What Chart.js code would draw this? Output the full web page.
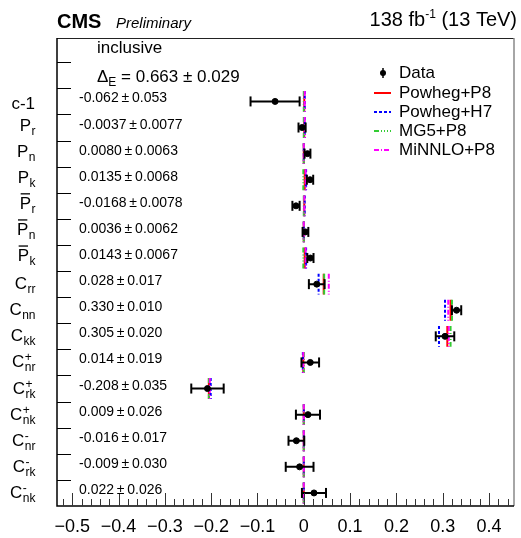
<!DOCTYPE html>
<html>
<head>
<meta charset="utf-8">
<script src="https://cdn.jsdelivr.net/npm/chart.js@4.4.1/dist/chart.umd.min.js"></script>
<style>
  body { margin: 0; background: #fff; }
  #wrap { width: 521px; height: 538px; }
</style>
</head>
<body>
<div id="wrap"><canvas id="chart" width="521" height="538"></canvas></div>
<script>
// categories (symbol, subscript, superscript, overbar)
const catMain = ['c-1', 'P', 'P', 'P', 'P', 'P', 'P', 'C', 'C', 'C', 'C', 'C', 'C', 'C', 'C', 'C'];
const catSub = ['', 'r', 'n', 'k', 'r', 'n', 'k', 'rr', 'nn', 'kk', 'nr', 'rk', 'nk', 'nr', 'rk', 'nk'];
const catSup = ['', '', '', '', '', '', '', '', '', '', '+', '+', '+', '-', '-', '-'];
const catBar = [false, false, false, false, true, true, true, false, false, false, false, false, false, false, false, false];

// measured values and uncertainties
const measured = [-0.062, -0.0037, 0.0080, 0.0135, -0.0168, 0.0036, 0.0143, 0.028, 0.330, 0.305, 0.014, -0.208, 0.009, -0.016, -0.009, 0.022];
const uncert = [0.053, 0.0077, 0.0063, 0.0068, 0.0078, 0.0062, 0.0067, 0.017, 0.010, 0.020, 0.019, 0.035, 0.026, 0.017, 0.030, 0.026];

// predictions
const powhegP8 = [0.001, 0.001, 0.000, 0.002, 0.001, 0.000, 0.002, 0.043, 0.317, 0.310, -0.001, -0.205, 0.000, 0.000, 0.000, 0.000];
const powhegH7 = [0.002, 0.002, 0.000, 0.005, 0.002, 0.000, 0.005, 0.032, 0.305, 0.292, -0.002, -0.201, 0.000, 0.000, 0.000, 0.000];
const mg5P8 = [0.000, 0.000, 0.000, -0.001, 0.000, 0.000, -0.001, 0.044, 0.320, 0.317, 0.000, -0.205, 0.000, 0.000, 0.000, 0.000];
const minnloP8 = [0.002, 0.002, 0.000, 0.004, 0.001, 0.000, 0.004, 0.054, 0.312, 0.313, -0.001, -0.203, 0.000, 0.000, 0.000, 0.000];

const xTicks = [-0.5, -0.4, -0.3, -0.2, -0.1, 0, 0.1, 0.2, 0.3, 0.4];
const inclusiveDelta = [0.663, 0.029];

const FONT = '"Liberation Sans", Arial, Helvetica, sans-serif';
Chart.defaults.font.family = FONT;

const ROW0 = 2; // first category row (rows 0,1 hold the text)
const rowOf = i => i + ROW0 + 0.5;

function modelSet(label, vals, color, dash) {
  const pts = [];
  vals.forEach((v, i) => {
    pts.push({ x: v, y: i + ROW0 + 0.1 }, { x: v, y: i + ROW0 + 0.9 }, { x: v, y: null });
  });
  return {
    label: label, data: pts, showLine: true, spanGaps: false,
    borderColor: color, borderWidth: 2, borderDash: dash, pointRadius: 0
  };
}

const errPts = [];
measured.forEach((v, i) => {
  errPts.push({ x: v - uncert[i], y: rowOf(i) }, { x: v + uncert[i], y: rowOf(i) }, { x: v, y: null });
});

const models = [
  { label: 'Powheg+P8', vals: powhegP8, color: '#ff0000', dash: [] },
  { label: 'Powheg+H7', vals: powhegH7, color: '#0000ff', dash: [3, 2] },
  { label: 'MG5+P8', vals: mg5P8, color: '#33cc33', dash: [5, 2, 1, 2, 1, 2, 1, 2] },
  { label: 'MiNNLO+P8', vals: minnloP8, color: '#ff00ff', dash: [5, 2, 1, 2] }
];

function fmtVal(v, e) {
  const d = e < 0.01 ? 4 : 3;
  return v.toFixed(d) + '\u2009\u00b1\u2009' + e.toFixed(d);
}

function drawLabel(ctx, right, base, main, sub, sup, bar) {
  ctx.font = '17px ' + FONT;
  const mw = ctx.measureText(main).width;
  ctx.font = '12px ' + FONT;
  const sw = Math.max(ctx.measureText(sub).width, ctx.measureText(sup).width);
  const x0 = right - mw - sw;
  ctx.font = '17px ' + FONT;
  ctx.fillText(main, x0, base);
  if (bar) {
    ctx.lineWidth = 1.3;
    ctx.beginPath();
    ctx.moveTo(x0 + 1, base - 15);
    ctx.lineTo(x0 + mw - 1, base - 15);
    ctx.stroke();
  }
  ctx.font = '12px ' + FONT;
  if (sub) ctx.fillText(sub, x0 + mw + 0.5, base + 4);
  if (sup) ctx.fillText(sup, x0 + mw + 0.5, base - 6);
}

const decor = {
  id: 'decor',
  afterDraw(chart) {
    const ctx = chart.ctx;
    const a = chart.chartArea;
    const xs = chart.scales.x, ys = chart.scales.y;
    ctx.save();
    ctx.fillStyle = '#000';
    ctx.strokeStyle = '#000';

    // frame
    ctx.lineWidth = 1;
    ctx.strokeStyle = '#222';
    ctx.beginPath(); ctx.moveTo(a.left, a.top + 0.5); ctx.lineTo(a.right, a.top + 0.5); ctx.stroke();
    ctx.strokeStyle = '#888';
    ctx.lineWidth = 1.5;
    ctx.beginPath(); ctx.moveTo(a.right, a.top); ctx.lineTo(a.right, a.bottom); ctx.stroke();
    ctx.strokeStyle = '#000';
    ctx.beginPath(); ctx.moveTo(a.left, a.top); ctx.lineTo(a.left, a.bottom); ctx.lineTo(a.right, a.bottom); ctx.stroke();

    // y ticks (row separators)
    ctx.lineWidth = 1;
    for (let r = 1; r <= catMain.length + 1; r++) {
      const y = Math.round(ys.getPixelForValue(r)) + 0.5;
      ctx.beginPath(); ctx.moveTo(a.left, y); ctx.lineTo(a.left + 14, y); ctx.stroke();
    }

    // x ticks
    ctx.strokeStyle = '#333';
    for (let k = -26; k <= 22; k++) {
      const v = k * 0.02;
      const x = Math.round(xs.getPixelForValue(v)) + 0.5;
      const len = (k % 5 === 0) ? 13 : 7;
      ctx.beginPath(); ctx.moveTo(x, a.bottom); ctx.lineTo(x, a.bottom - len); ctx.stroke();
    }

    // category labels and values
    ctx.strokeStyle = '#000';
    ctx.textBaseline = 'alphabetic';
    ctx.textAlign = 'left';
    catMain.forEach((m, i) => {
      const yc = ys.getPixelForValue(rowOf(i));
      const off = m === 'P' ? 3 : (m === 'C' ? 5 : 8);
      drawLabel(ctx, 35, yc + off, m, catSub[i], catSup[i], catBar[i]);
      ctx.font = '14px ' + FONT;
      ctx.fillText(fmtVal(measured[i], uncert[i]), 79, yc + 1);
    });

    // inclusive text
    ctx.font = '17px ' + FONT;
    ctx.fillText('inclusive', 97, ys.getPixelForValue(0.5) + 4);
    const yd = ys.getPixelForValue(1.5) + 6.5;
    ctx.fillText('\u0394', 97, yd);
    let w = ctx.measureText('\u0394').width;
    ctx.font = '12px ' + FONT;
    ctx.fillText('E', 97 + w, yd + 4);
    w += ctx.measureText('E').width;
    ctx.font = '17px ' + FONT;
    ctx.fillText(' = ' + inclusiveDelta[0].toFixed(3) + ' \u00b1 ' + inclusiveDelta[1].toFixed(3), 97 + w, yd);

    // legend
    const lx = 374, tx = 399;
    let ly = 73;
    ctx.lineWidth = 1.5;
    ctx.beginPath(); ctx.moveTo(383, ly - 5); ctx.lineTo(383, ly + 5); ctx.stroke();
    ctx.beginPath(); ctx.arc(383, ly, 3, 0, Math.PI * 2); ctx.fill();
    ctx.font = '17px ' + FONT;
    ctx.textBaseline = 'middle';
    ctx.fillText('Data', tx, ly);
    models.forEach((m, i) => {
      const y = 93 + i * 19;
      ctx.strokeStyle = m.color;
      ctx.lineWidth = 2;
      ctx.setLineDash(m.dash);
      ctx.beginPath(); ctx.moveTo(lx, y); ctx.lineTo(lx + 17, y); ctx.stroke();
      ctx.setLineDash([]);
      ctx.fillStyle = '#000';
      ctx.fillText(m.label, tx, y);
    });

    // header
    ctx.textBaseline = 'alphabetic';
    ctx.font = 'bold 20px ' + FONT;
    ctx.fillText('CMS', 57, 28);
    ctx.font = 'italic 15px ' + FONT;
    ctx.fillText('Preliminary', 116, 28);
    ctx.textAlign = 'right';
    ctx.font = '20px ' + FONT;
    const tail = ' (13 TeV)';
    const tw = ctx.measureText(tail).width;
    ctx.fillText(tail, 517, 26);
    ctx.font = '12px ' + FONT;
    const sw = ctx.measureText('-1').width;
    ctx.fillText('-1', 517 - tw, 18);
    ctx.font = '20px ' + FONT;
    ctx.fillText('138 fb', 517 - tw - sw, 26);
    ctx.restore();
  }
};

new Chart(document.getElementById('chart'), {
  type: 'scatter',
  data: {
    datasets: [
      {
        label: 'Data', data: measured.map((v, i) => ({ x: v, y: rowOf(i) })),
        pointRadius: 3, pointBackgroundColor: '#000', pointBorderColor: '#000', showLine: false
      },
      {
        label: 'err', data: errPts, showLine: true, spanGaps: false,
        borderColor: '#000', borderWidth: 2,
        pointStyle: 'line', pointRotation: 90, pointRadius: 5,
        pointBorderColor: '#000', pointBorderWidth: 2
      },
      // first dataset is drawn on top, so list the models last-to-first
      ...models.slice().reverse().map(m => modelSet(m.label, m.vals, m.color, m.dash))
    ]
  },
  options: {
    responsive: false,
    animation: false,
    layout: { padding: { left: 57, right: 5, top: 38, bottom: 0 } },
    plugins: { legend: { display: false }, tooltip: { enabled: false } },
    scales: {
      x: {
        type: 'linear', min: -0.533, max: 0.454,
        afterBuildTicks: s => { s.ticks = xTicks.map(v => ({ value: v })); },
        afterFit: s => { s.height = 32; },
        grid: { display: false, drawTicks: false },
        border: { display: false },
        ticks: {
          font: { size: 18 }, color: '#000', padding: 10, maxRotation: 0, autoSkip: false,
          callback: v => v === 0 ? '0' : (v < 0 ? '\u2212' : '') + Math.abs(v).toFixed(1)
        }
      },
      y: { type: 'linear', reverse: true, min: 0.07, max: 18, display: false }
    }
  },
  plugins: [decor]
});
</script>
</body>
</html>
